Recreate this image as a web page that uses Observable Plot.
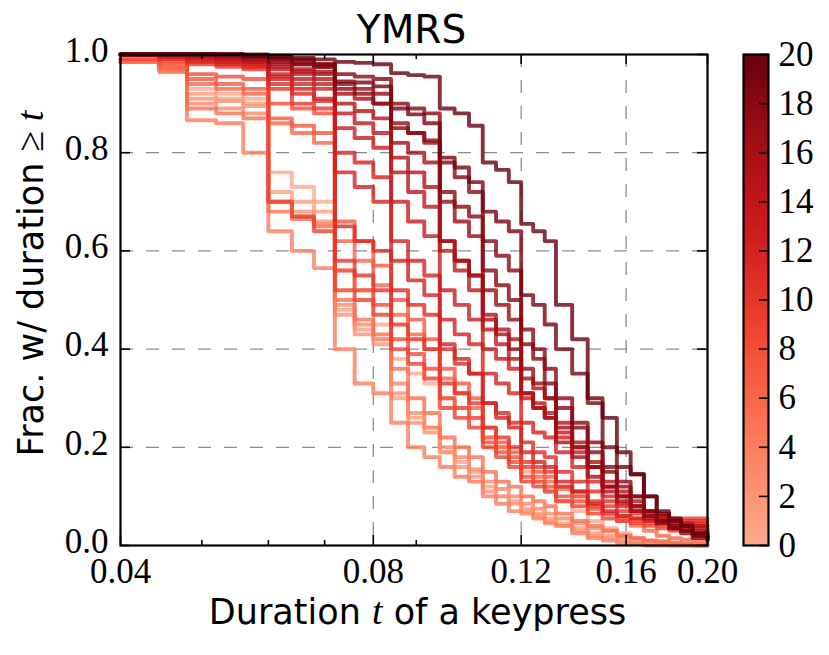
<!DOCTYPE html>
<html>
<head>
<meta charset="utf-8">
<script src="https://cdn.jsdelivr.net/npm/d3@7"></script>
<script src="https://cdn.jsdelivr.net/npm/@observablehq/plot@0.6"></script>
<style>
  html, body { margin: 0; padding: 0; background: #fff; }
  #chart { position: relative; width: 829px; height: 655px; }
  #chart svg { position: absolute; left: 0; top: 0; }
</style>
</head>
<body>
<div id="chart"></div>
<script>
// ---- data -----------------------------------------------------------
// durations t (s) at which the survival fraction is read
const times = [0.040, 0.0445, 0.048, 0.052, 0.056, 0.060, 0.064, 0.068, 0.072, 0.076,
  0.080, 0.084, 0.088, 0.092, 0.096, 0.100, 0.104, 0.108, 0.112, 0.116,
  0.120, 0.124, 0.128, 0.132, 0.138, 0.144, 0.150, 0.156, 0.162, 0.168,
  0.174, 0.180, 0.186, 0.192, 0.200];

// YMRS score of each subject (colour)
const scores = [0, 1, 2, 3, 4, 5, 6, 7, 8, 9, 10, 11, 12, 12, 13, 14, 15, 16, 17, 18, 18, 19, 20];

// fraction of keypresses with duration >= t, one row per subject
const survival = [
  [0.985,0.975,0.93,0.92,0.91, 0.76,0.73,0.70,0.56,0.52, 0.45,0.38,0.35,0.33,0.30, 0.28,0.26,0.22,0.20,0.18, 0.15,0.13,0.11,0.09,0.07, 0.05,0.035,0.025,0.015,0.01, 0.006,0.003,0.002,0,0],
  [0.985,0.97,0.92,0.91,0.90, 0.72,0.70,0.68,0.48,0.44, 0.42,0.30,0.26,0.24,0.19, 0.17,0.15,0.12,0.10,0.09, 0.075,0.065,0.055,0.045,0.035, 0.025,0.02,0.015,0.01,0.006, 0.003,0.002,0.001,0,0],
  [0.985,0.97,0.91,0.905,0.895, 0.70,0.68,0.66,0.47,0.43, 0.41,0.31,0.25,0.23,0.19, 0.16,0.14,0.11,0.10,0.085, 0.07,0.06,0.05,0.04,0.03, 0.02,0.015,0.01,0.006,0.004, 0.002,0,0,0,0],
  [0.985,0.965,0.90,0.89,0.88, 0.70,0.67,0.655,0.49,0.45, 0.42,0.33,0.27,0.24,0.20, 0.18,0.155,0.13,0.115,0.10, 0.085,0.075,0.065,0.055,0.045, 0.035,0.03,0.02,0.015,0.01, 0.008,0.005,0.003,0.002,0],
  [0.985,0.965,0.866,0.86,0.80, 0.64,0.60,0.565,0.40,0.33, 0.31,0.25,0.20,0.18,0.16, 0.14,0.13,0.10,0.085,0.07, 0.065,0.055,0.045,0.04,0.025, 0.015,0.01,0.005,0.003,0, 0,0,0,0,0],
  [0.985,0.97,0.89,0.88,0.87, 0.68,0.665,0.65,0.50,0.46, 0.43,0.36,0.30,0.27,0.22, 0.20,0.18,0.15,0.13,0.12, 0.10,0.09,0.08,0.065,0.05, 0.04,0.03,0.02,0.015,0.01, 0.008,0.006,0.004,0.003,0.002],
  [0.99,0.975,0.94,0.93,0.92, 0.86,0.84,0.82,0.62,0.58, 0.53,0.47,0.43,0.40,0.34, 0.31,0.28,0.22,0.20,0.18, 0.16,0.14,0.13,0.115,0.10, 0.08,0.065,0.05,0.04,0.03, 0.02,0.015,0.012,0.01,0.008],
  [0.99,0.98,0.95,0.94,0.93, 0.87,0.855,0.84,0.66,0.62, 0.57,0.50,0.46,0.42,0.36, 0.33,0.30,0.24,0.21,0.19, 0.16,0.15,0.14,0.12,0.10, 0.08,0.065,0.055,0.05,0.045, 0.04,0.035,0.03,0.03,0.025],
  [0.99,0.985,0.96,0.955,0.95, 0.90,0.89,0.88,0.56,0.52, 0.49,0.42,0.39,0.36,0.30, 0.28,0.26,0.21,0.19,0.17, 0.14,0.13,0.12,0.10,0.09, 0.075,0.065,0.06,0.055,0.05, 0.05,0.045,0.045,0.04,0.04],
  [1.0,0.99,0.985,0.98,0.975, 0.70,0.67,0.64,0.52,0.50, 0.47,0.40,0.37,0.34,0.28, 0.26,0.24,0.20,0.18,0.16, 0.13,0.12,0.11,0.09,0.08, 0.065,0.055,0.05,0.045,0.04, 0.035,0.03,0.03,0.025,0.025],
  [1.0,0.99,0.98,0.975,0.97, 0.93,0.90,0.89,0.58,0.55, 0.52,0.45,0.42,0.40,0.33, 0.31,0.29,0.24,0.22,0.20, 0.17,0.16,0.15,0.12,0.11, 0.09,0.08,0.07,0.065,0.06, 0.06,0.055,0.055,0.055,0.055],
  [1.0,0.995,0.985,0.98,0.975, 0.94,0.92,0.905,0.65,0.62, 0.60,0.52,0.49,0.47,0.40, 0.37,0.35,0.29,0.27,0.25, 0.21,0.19,0.18,0.15,0.13, 0.11,0.09,0.08,0.07,0.06, 0.055,0.05,0.05,0.05,0.05],
  [1.0,0.995,0.99,0.985,0.98, 0.955,0.94,0.93,0.76,0.73, 0.70,0.58,0.54,0.51,0.41, 0.38,0.35,0.29,0.26,0.24, 0.19,0.17,0.16,0.13,0.11, 0.085,0.07,0.06,0.055,0.05, 0.05,0.045,0.045,0.045,0.045],
  [1.0,0.995,0.99,0.985,0.98, 0.95,0.93,0.91,0.80,0.78, 0.75,0.62,0.58,0.55,0.46, 0.43,0.41,0.35,0.33,0.31, 0.25,0.23,0.22,0.19,0.16, 0.13,0.10,0.085,0.07,0.06, 0.05,0.045,0.045,0.04,0.04],
  [1.0,1.0,0.995,0.99,0.985, 0.96,0.95,0.94,0.85,0.83, 0.81,0.70,0.66,0.63,0.52, 0.49,0.46,0.40,0.38,0.36, 0.30,0.28,0.26,0.22,0.19, 0.16,0.12,0.10,0.08,0.06, 0.05,0.04,0.035,0.03,0.03],
  [1.0,1.0,0.995,0.99,0.985, 0.97,0.96,0.95,0.88,0.86, 0.84,0.76,0.72,0.69,0.60, 0.56,0.52,0.44,0.41,0.38, 0.31,0.29,0.27,0.23,0.20, 0.16,0.12,0.10,0.08,0.065, 0.055,0.05,0.045,0.04,0.04],
  [1.0,1.0,1.0,0.995,0.99, 0.975,0.965,0.96,0.90,0.885, 0.87,0.79,0.76,0.73,0.62, 0.58,0.55,0.47,0.44,0.42, 0.34,0.32,0.30,0.25,0.21, 0.17,0.13,0.11,0.09,0.07, 0.06,0.05,0.04,0.035,0.03],
  [1.0,1.0,1.0,0.995,0.99, 0.98,0.97,0.965,0.92,0.91, 0.90,0.82,0.80,0.78,0.62, 0.58,0.55,0.46,0.43,0.40, 0.31,0.28,0.26,0.21,0.18, 0.14,0.11,0.09,0.07,0.055, 0.045,0.035,0.03,0.025,0.02],
  [1.0,1.0,1.0,1.0,0.995, 0.99,0.98,0.975,0.94,0.93, 0.92,0.86,0.84,0.82,0.70, 0.66,0.63,0.52,0.49,0.46, 0.36,0.33,0.30,0.24,0.20, 0.16,0.12,0.10,0.08,0.06, 0.045,0.035,0.03,0.02,0.015],
  [1.0,1.0,1.0,1.0,0.995, 0.99,0.985,0.98,0.96,0.955, 0.95,0.90,0.89,0.88,0.78, 0.75,0.72,0.62,0.59,0.56, 0.44,0.40,0.36,0.30,0.25, 0.21,0.16,0.13,0.10,0.07, 0.05,0.035,0.025,0.015,0.01],
  [1.0,1.0,1.0,1.0,0.995, 0.985,0.98,0.975,0.93,0.92, 0.90,0.85,0.84,0.825,0.72, 0.69,0.67,0.56,0.53,0.50, 0.41,0.38,0.33,0.28,0.24, 0.19,0.15,0.12,0.10,0.07, 0.05,0.04,0.03,0.02,0.01],
  [1.0,1.0,1.0,1.0,1.0, 0.995,0.99,0.98,0.945,0.943, 0.935,0.89,0.878,0.86,0.79, 0.77,0.74,0.68,0.66,0.64, 0.51,0.49,0.45,0.40,0.35, 0.29,0.20,0.16,0.145,0.10, 0.065,0.05,0.04,0.022,0.012],
  [1.0,1.0,1.0,1.0,0.998, 0.995,0.993,0.99,0.985,0.983, 0.98,0.962,0.958,0.955,0.89, 0.88,0.855,0.78,0.765,0.74, 0.655,0.64,0.62,0.49,0.42, 0.30,0.26,0.19,0.145,0.10, 0.07,0.055,0.04,0.025,0.015]
];

// axes & colourbar ticks
const xMajorTicks = [0.04, 0.08, 0.12, 0.16, 0.20];
const xMinorTicks = [0.05, 0.06, 0.07, 0.09];
const yTicks = [0, 0.2, 0.4, 0.6, 0.8, 1.0];
const xGrid = [0.08, 0.12, 0.16];
const yGrid = [0.2, 0.4, 0.6, 0.8];
const colorbarTicks = [0, 2, 4, 6, 8, 10, 12, 14, 16, 18, 20];
const scoreDomain = [0, 20];

// ---- layout ----------------------------------------------------------
const W = 829, H = 655;
const mL = 120, mR = 122, mT = 54, mB = 110;
const innerW = W - mL - mR, innerH = H - mT - mB;
const serif = "'Liberation Serif', 'DejaVu Serif', serif";
const sans = "'DejaVu Sans', 'Liberation Sans', sans-serif";
const gridStyle = {stroke: "#8c8c8c", strokeWidth: 1.3, strokeDasharray: "13,13"};
const tickStyle = {stroke: "black", strokeWidth: 1.6};
// Reds colormap restricted to its upper 70% (as in the reference colour bar)
const colorScale = {type: "linear", scheme: "reds",
  domain: [scoreDomain[0] - 0.3 / 0.7 * (scoreDomain[1] - scoreDomain[0]), scoreDomain[1]]};

const rows = [];
scores.forEach((s, i) => survival[i].forEach((f, j) => rows.push({id: i, score: s, t: times[j], frac: f})));

const main = Plot.plot({
  width: W, height: H,
  marginLeft: mL, marginRight: mR, marginTop: mT, marginBottom: mB,
  style: {background: "transparent", overflow: "visible", fontFamily: serif},
  x: {type: "log", domain: [0.04, 0.2]},
  y: {domain: [0, 1]},
  color: colorScale,
  marks: [
    Plot.ruleX(xGrid, {x: d => d, ...gridStyle}),
    Plot.ruleY(yGrid, {y: d => d, ...gridStyle}),
    Plot.line(rows, {x: "t", y: "frac", z: "id", stroke: "score", curve: "step-after",
      strokeWidth: 3.9, strokeOpacity: 0.8}),
    Plot.frame({stroke: "black", strokeWidth: 2.2}),
    Plot.tickX(xMajorTicks, {x: d => d, insetTop: innerH - 10, ...tickStyle}),
    Plot.tickX(xMajorTicks, {x: d => d, insetBottom: innerH - 10, ...tickStyle}),
    Plot.tickX(xMinorTicks, {x: d => d, insetTop: innerH - 5, ...tickStyle}),
    Plot.tickX(xMinorTicks, {x: d => d, insetBottom: innerH - 5, ...tickStyle}),
    Plot.tickY(yTicks, {y: d => d, insetRight: innerW - 10, ...tickStyle}),
    Plot.tickY(yTicks, {y: d => d, insetLeft: innerW - 10, ...tickStyle}),
    Plot.axisX(xMajorTicks, {tickSize: 0, tickPadding: 13, tickFormat: d3.format(".2f"),
      fontSize: 35, fontFamily: serif, label: null}),
    Plot.axisY(yTicks, {tickSize: 0, tickPadding: 12, dy: -4, tickFormat: d3.format(".1f"),
      fontSize: 35, fontFamily: serif, label: null})
  ]
});

const cbStops = d3.range(scoreDomain[0], scoreDomain[1], 0.1);
const colorbar = Plot.plot({
  width: W, height: H,
  marginLeft: 743, marginRight: W - 768, marginTop: mT, marginBottom: mB,
  style: {background: "transparent", overflow: "visible", fontFamily: serif},
  y: {domain: scoreDomain},
  color: colorScale,
  marks: [
    Plot.barY(cbStops, {y1: d => d, y2: d => d + 0.11, fill: d => d, shapeRendering: "crispEdges"}),
    Plot.frame({stroke: "black", strokeWidth: 2.2}),
    Plot.tickY(colorbarTicks, {y: d => d, insetLeft: 25 - 9, ...tickStyle}),
    Plot.axisY(colorbarTicks, {anchor: "right", tickSize: 0, tickPadding: 10,
      fontSize: 35, fontFamily: serif, label: null})
  ]
});

const chart = document.getElementById("chart");
chart.appendChild(main);
chart.appendChild(colorbar);

// title and axis labels (mixed fonts)
const svg = d3.select(main);
svg.append("text")
  .attr("x", mL + innerW / 2 - 2).attr("y", 43)
  .attr("text-anchor", "middle")
  .style("font-family", sans).style("font-size", "39px").attr("fill", "black")
  .text("YMRS");

const xl = svg.append("text")
  .attr("x", mL + innerW / 2 + 4).attr("y", 624)
  .attr("text-anchor", "middle")
  .style("font-family", sans).style("font-size", "35px").attr("fill", "black");
xl.append("tspan").text("Duration ");
xl.append("tspan").style("font-family", serif).style("font-style", "italic").style("font-size", "38px").text("t");
xl.append("tspan").text(" of a keypress");

const yl = svg.append("text")
  .attr("transform", `translate(43,${mT + innerH / 2 - 16}) rotate(-90)`)
  .attr("text-anchor", "middle")
  .style("font-family", sans).style("font-size", "35px").attr("fill", "black");
yl.append("tspan").text("Frac. w/ duration ");
yl.append("tspan").style("font-family", serif).style("font-size", "38px").text("≥");
yl.append("tspan").style("font-family", serif).style("font-style", "italic").style("font-size", "38px").text(" t");
</script>
</body>
</html>
